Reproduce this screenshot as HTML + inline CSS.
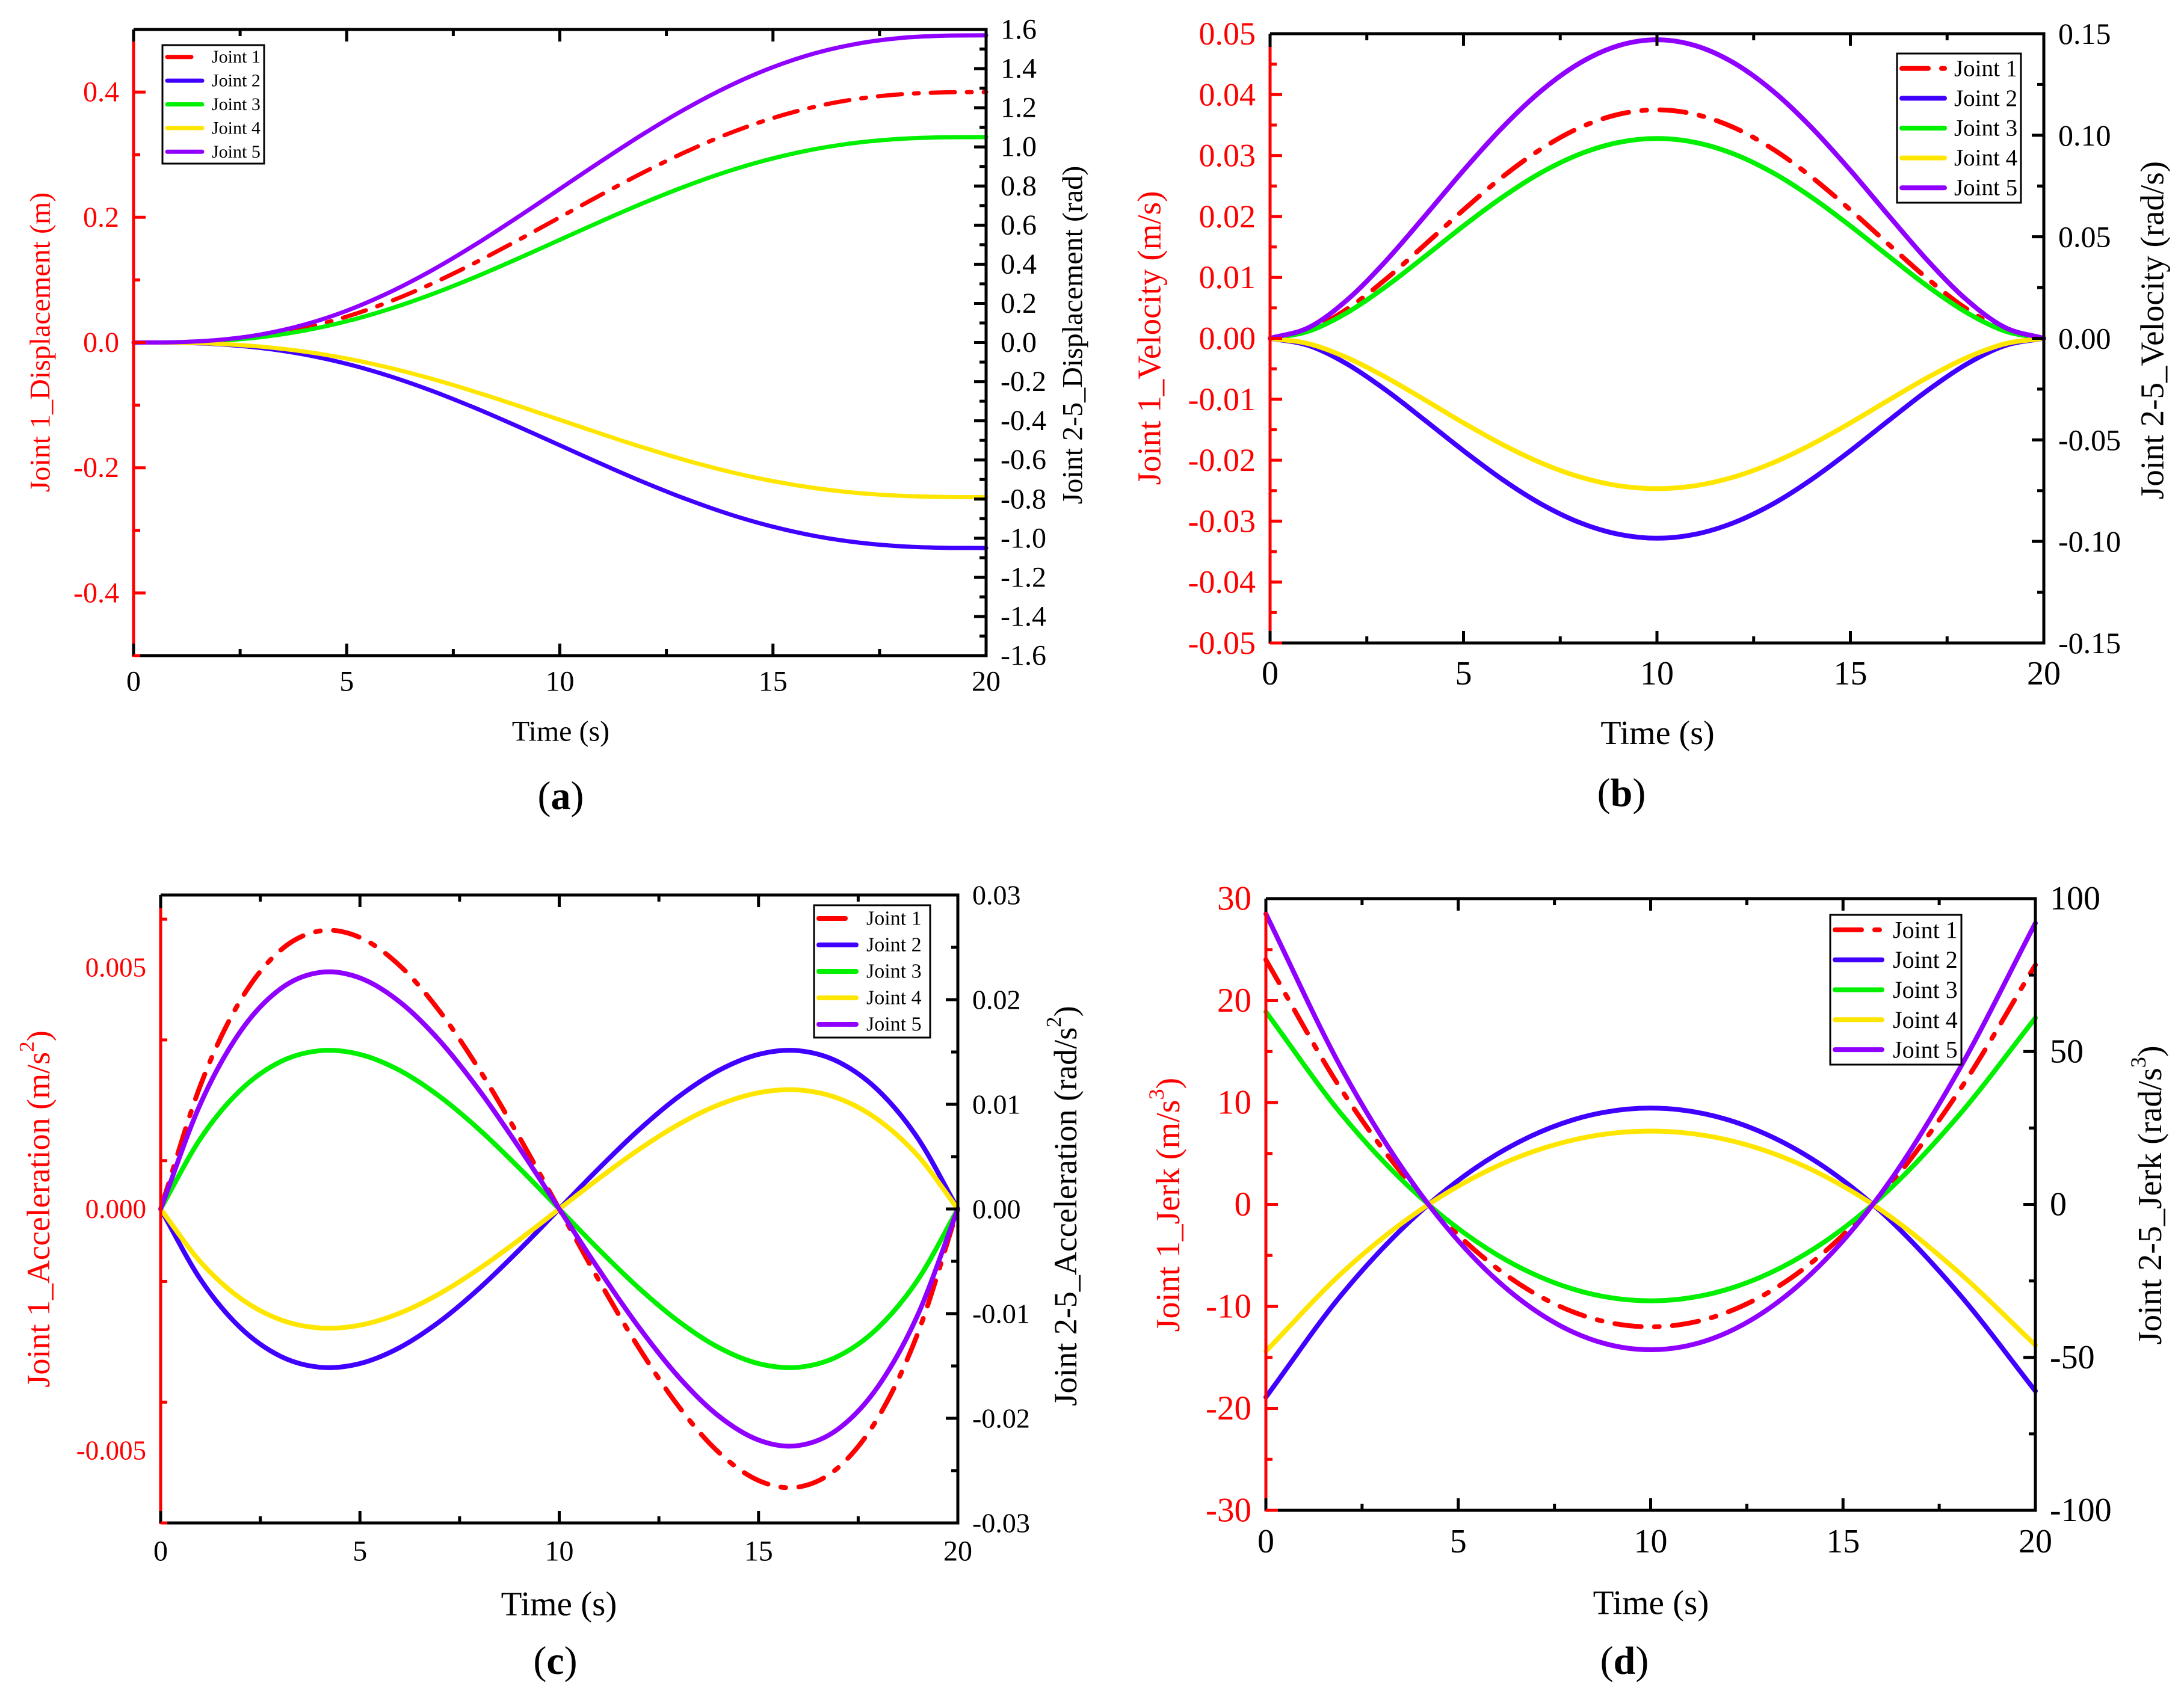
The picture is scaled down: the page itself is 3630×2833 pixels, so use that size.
<!DOCTYPE html>
<html><head><meta charset="utf-8"><style>
html,body{margin:0;padding:0;background:#fff;}
svg{display:block;font-family:"Liberation Serif",serif;}
text{font-family:"Liberation Serif",serif;}
</style></head><body>
<svg id="fig" xmlns="http://www.w3.org/2000/svg" width="3630" height="2833" viewBox="0 0 3630 2833"></svg>
<script>
// ---------- data ----------
const timeFine = [0,1,2,3,4,5,6,7,8,9,10,11,12,13,14,15,16,17,18,19,20];
const timeCoarse = [0,2,4,6,8,10,12,14,16,18,20];
const seriesNames = ["Joint 1","Joint 2","Joint 3","Joint 4","Joint 5"];

const dispJ1 = [0,0.00046,0.00342,0.01064,0.02317,0.04141,0.06523,0.09407,0.12698,0.16275,0.2,0.23725,0.27302,0.30593,0.33477,0.35859,0.37683,0.38936,0.39658,0.39954,0.4];
const dispJ2 = [0,-0.00122,-0.00899,-0.02794,-0.06082,-0.10869,-0.17123,-0.24693,-0.33331,-0.42722,-0.525,-0.62278,-0.71669,-0.80307,-0.87877,-0.94131,-0.98918,-1.02206,-1.04101,-1.04878,-1.05];
const dispJ3 = [0,0.00122,0.00899,0.02794,0.06082,0.10869,0.17123,0.24693,0.33331,0.42722,0.525,0.62278,0.71669,0.80307,0.87877,0.94131,0.98918,1.02206,1.04101,1.04878,1.05];
const dispJ4 = [0,-0.00091,-0.00676,-0.02102,-0.04576,-0.08178,-0.12883,-0.18578,-0.25078,-0.32143,-0.395,-0.46857,-0.53922,-0.60422,-0.66117,-0.70822,-0.74424,-0.76898,-0.78324,-0.78909,-0.79];
const dispJ5 = [0,0.00182,0.01344,0.04178,0.09093,0.16252,0.25604,0.36922,0.49838,0.6388,0.785,0.9312,1.07162,1.20078,1.31396,1.40748,1.47907,1.52822,1.55656,1.56818,1.57];

const velJ1 = [0,0.00135,0.00486,0.00975,0.01536,0.02109,0.02646,0.03105,0.03456,0.03675,0.0375,0.03675,0.03456,0.03105,0.02646,0.02109,0.01536,0.00975,0.00486,0.00135,0];
const velJ2 = [0,-0.00355,-0.01275,-0.02559,-0.0403,-0.05535,-0.06943,-0.08149,-0.09069,-0.09644,-0.0984,-0.09644,-0.09069,-0.08149,-0.06943,-0.05535,-0.0403,-0.02559,-0.01275,-0.00355,0];
const velJ3 = [0,0.00355,0.01275,0.02559,0.0403,0.05535,0.06943,0.08149,0.09069,0.09644,0.0984,0.09644,0.09069,0.08149,0.06943,0.05535,0.0403,0.02559,0.01275,0.00355,0];
const velJ4 = [0,-0.00267,-0.00959,-0.01925,-0.03031,-0.04163,-0.05221,-0.06128,-0.0682,-0.07253,-0.074,-0.07253,-0.0682,-0.06128,-0.05221,-0.04163,-0.03031,-0.01925,-0.00959,-0.00267,0];
const velJ5 = [0,0.00531,0.01905,0.03823,0.06021,0.08269,0.10372,0.12173,0.13548,0.14407,0.147,0.14407,0.13548,0.12173,0.10372,0.08269,0.06021,0.03823,0.01905,0.00531,0];

const accJ1 = [0,0.002564,0.004317,0.005352,0.005756,0.005621,0.005037,0.004093,0.002878,0.001484,0,-0.001484,-0.002878,-0.004093,-0.005037,-0.005621,-0.005756,-0.005352,-0.004317,-0.002564,0];
const accJ2 = [0,-0.006736,-0.011343,-0.014061,-0.015124,-0.014769,-0.013233,-0.010753,-0.007562,-0.003899,0,0.003899,0.007562,0.010753,0.013233,0.014769,0.015124,0.014061,0.011343,0.006736,0];
const accJ3 = [0,0.006736,0.011343,0.014061,0.015124,0.014769,0.013233,0.010753,0.007562,0.003899,0,-0.003899,-0.007562,-0.010753,-0.013233,-0.014769,-0.015124,-0.014061,-0.011343,-0.006736,0];
const accJ4 = [0,-0.005065,-0.008529,-0.010574,-0.011373,-0.011106,-0.009951,-0.008086,-0.005686,-0.002932,0,0.002932,0.005686,0.008086,0.009951,0.011106,0.011373,0.010574,0.008529,0.005065,0];
const accJ5 = [0,0.010068,0.016954,0.021017,0.022606,0.022075,0.01978,0.016073,0.011303,0.005828,0,-0.005828,-0.011303,-0.016073,-0.01978,-0.022075,-0.022606,-0.021017,-0.016954,-0.010068,0];

const jerkJ1 = [24,11.04,0.96,-6.24,-10.56,-12,-10.56,-6.24,0.96,11.04,23.5];
const jerkJ2 = [-63,-28.98,-2.52,16.38,27.72,31.5,27.72,16.38,-2.52,-28.98,-61];
const jerkJ3 = [63,28.98,2.52,-16.38,-27.72,-31.5,-27.72,-16.38,2.52,28.98,61];
const jerkJ4 = [-48,-22.08,-1.92,12.48,21.12,24,21.12,12.48,-1.92,-22.08,-46];
const jerkJ5 = [95,43.7,3.8,-24.7,-41.8,-47.5,-41.8,-24.7,3.8,43.7,92];

const xTickLabels = ["0","5","10","15","20"];
const aLeftTicks = ["-0.4","-0.2","0.0","0.2","0.4"];
const aRightTicks = ["-1.6","-1.4","-1.2","-1.0","-0.8","-0.6","-0.4","-0.2","0.0","0.2","0.4","0.6","0.8","1.0","1.2","1.4","1.6"];
const bLeftTicks = ["-0.05","-0.04","-0.03","-0.02","-0.01","0.00","0.01","0.02","0.03","0.04","0.05"];
const bRightTicks = ["-0.15","-0.10","-0.05","0.00","0.05","0.10","0.15"];
const cLeftTicks = ["-0.005","0.000","0.005"];
const cRightTicks = ["-0.03","-0.02","-0.01","0.00","0.01","0.02","0.03"];
const dLeftTicks = ["-30","-20","-10","0","10","20","30"];
const dRightTicks = ["-100","-50","0","50","100"];

const colors = ["#ff0000","#4000ff","#00f000","#ffe600","#9000ff"];
// ---------- drawing ----------
const NS = "http://www.w3.org/2000/svg";
const svg = document.getElementById("fig");
function mk(tag, attrs, parent){
  const e = document.createElementNS(NS, tag);
  for (const k in attrs) e.setAttribute(k, attrs[k]);
  (parent||svg).appendChild(e); return e;
}
function smoothPath(pts){
  let d = "M"+pts[0][0].toFixed(1)+","+pts[0][1].toFixed(1);
  for (let i=0;i<pts.length-1;i++){
    const p0 = pts[i-1] || [2*pts[0][0]-pts[1][0], 2*pts[0][1]-pts[1][1]];
    const p1 = pts[i], p2 = pts[i+1];
    const p3 = pts[i+2] || [2*p2[0]-p1[0], 2*p2[1]-p1[1]];
    const c1 = [p1[0]+(p2[0]-p0[0])/6, p1[1]+(p2[1]-p0[1])/6];
    const c2 = [p2[0]-(p3[0]-p1[0])/6, p2[1]-(p3[1]-p1[1])/6];
    d += "C"+c1[0].toFixed(1)+","+c1[1].toFixed(1)+" "+c2[0].toFixed(1)+","+c2[1].toFixed(1)+" "+p2[0].toFixed(1)+","+p2[1].toFixed(1);
  }
  return d;
}

function panel(cfg){
  const g = mk("g", {});
  
  
  const L=cfg.L,R=cfg.R,T=cfg.T,B=cfg.B;
  const xs = t => L + (t-0)/(20-0)*(R-L);
  const yl = v => B - (v-cfg.lmin)/(cfg.lmax-cfg.lmin)*(B-T);
  const yr = v => B - (v-cfg.rmin)/(cfg.rmax-cfg.rmin)*(B-T);
  const tk = 20, mt = 11;
  const sg = mk("g", {}, g);
  
  
  cfg.series.forEach((vals, i) => {
    const ys = i===0 ? yl : yr;
    const pts = cfg.times.map((t,k)=>[xs(t), ys(vals[k])]);
    const p = mk("path", {d:smoothPath(pts), fill:"none", stroke:colors[i], "stroke-width":cfg.lw, "stroke-linecap":"round"}, sg);
    if (i===0) p.setAttribute("stroke-dasharray", cfg.dash);
    
    
  });
  const fr = mk("path", {d:`M${L},${T}H${R}V${B}H${L}`, fill:"none", stroke:"#000", "stroke-width":5}, g);
  
  
  mk("line", {x1:L,y1:T,x2:L,y2:B+2, stroke:"#000","stroke-width":5}, g);
  const lr = mk("line", {x1:L,y1:T+cfg.redStart,x2:L,y2:B+2, stroke:"#ff0000","stroke-width":5}, g);
  
  
  for (let t=0;t<=20;t+=2.5){
    const x = xs(t), len = (t%5===0)?tk:mt;
    mk("line",{x1:x,y1:B,x2:x,y2:B-len,stroke:"#000","stroke-width":5},g);
    mk("line",{x1:x,y1:T,x2:x,y2:T+len,stroke:"#000","stroke-width":5},g);
  }
  xTickLabels.forEach((lab,i)=>{
    const t = mk("text",{x:xs(i*5), y:cfg.xLabY, "font-size":cfg.tfs, "text-anchor":"middle", "dominant-baseline":"central"}, g);
    t.textContent = lab;
    
    
  });
  for (let v=cfg.lmin; v<=cfg.lmax+1e-9; v+=cfg.lminor){
    const y = yl(v);
    const major = Math.abs(Math.round(v/cfg.lmajor)*cfg.lmajor - v) < cfg.lminor*0.1;
    if (y < T+cfg.redStart-2 || y > B+1) continue;
    mk("line",{x1:L,y1:y,x2:L+(major?tk:mt),y2:y,stroke:"#ff0000","stroke-width":5},g);
  }
  cfg.lTicks.forEach(lab=>{
    const t = mk("text",{x:L-24, y:yl(parseFloat(lab)), "font-size":cfg.lfs, fill:"#ff0000", "text-anchor":"end", "dominant-baseline":"central"}, g);
    t.textContent = lab;
    
    
  });
  for (let v=cfg.rmin; v<=cfg.rmax+1e-9; v+=cfg.rminor){
    const y = yr(v);
    const major = Math.abs(Math.round(v/cfg.rmajor)*cfg.rmajor - v) < cfg.rminor*0.1;
    mk("line",{x1:R,y1:y,x2:R-(major?tk:mt),y2:y,stroke:"#000","stroke-width":5},g);
  }
  cfg.rTicks.forEach(lab=>{
    const t = mk("text",{x:R+24, y:yr(parseFloat(lab)), "font-size":cfg.rfs, "text-anchor":"start", "dominant-baseline":"central"}, g);
    t.textContent = lab;
    
    
  });
  const xt = mk("text",{x:cfg.timeX, y:cfg.timeY, "font-size":cfg.titfs, "text-anchor":"middle", "dominant-baseline":"central"}, g);
  xt.textContent = "Time (s)";
  
  
  const lt = mk("text",{transform:`translate(${cfg.ltX},${cfg.ltY}) rotate(-90)`, "font-size":cfg.ytfs, fill:"#ff0000", "text-anchor":"middle", "dominant-baseline":"central"}, g);
  lt.innerHTML = cfg.lTitle;
  
  
  const rt = mk("text",{transform:`translate(${cfg.rtX},${cfg.rtY}) rotate(-90)`, "font-size":cfg.ytfs, "text-anchor":"middle", "dominant-baseline":"central"}, g);
  rt.innerHTML = cfg.rTitle;
  
  
  const pl = mk("text",{x:cfg.letX, y:cfg.letY, "font-size":66, "text-anchor":"middle", "dominant-baseline":"central"}, g);
  pl.innerHTML = '(<tspan font-weight="bold">'+cfg.letter+'</tspan>)';
  
  
  const lg = cfg.leg;
  const lgG = mk("g",{},g);
  
  
  mk("rect",{x:lg.x1,y:lg.y1,width:lg.x2-lg.x1,height:lg.y2-lg.y1,fill:"#fff",stroke:"#000","stroke-width":3},lgG);
  seriesNames.forEach((nm,i)=>{
    const y = lg.y1 + (lg.y2-lg.y1)*(0.1+0.2*i);
    const ln = mk("line",{x1:lg.x1+8,y1:y,x2:lg.sx2,y2:y,stroke:colors[i],"stroke-width":cfg.lw,"stroke-linecap":"round"},lgG);
    if (i===0) ln.setAttribute("stroke-dasharray", cfg.dash);
    const tx = mk("text",{x:lg.tx,y:y,"font-size":lg.fs,"dominant-baseline":"central"},lgG);
    tx.textContent = nm;
    
    
  });
}

panel({name:"panel-a-displacement", letter:"a", L:222,R:1639,T:49,B:1090, lmin:-0.5,lmax:0.5,lmajor:0.2,lminor:0.1,
  rmin:-1.6,rmax:1.6,rmajor:0.2,rminor:0.1, lTicks:aLeftTicks, rTicks:aRightTicks, times:timeFine, series:[dispJ1,dispJ2,dispJ3,dispJ4,dispJ5],
  lw:7, dash:"40 20 8 20", redStart:18, tfs:48, lfs:48, rfs:48, titfs:48, ytfs:48, xLabY:1133,
  timeX:932,timeY:1216, ltX:67,ltY:569, rtX:1783,rtY:557, letX:932,letY:1323,
  lTitle:"Joint 1_Displacement (m)", rTitle:"Joint 2-5_Displacement (rad)",
  leg:{x1:270,y1:75,x2:439,y2:272,sx2:336,tx:352,fs:30}});

panel({name:"panel-b-velocity", letter:"b", L:2111,R:3397,T:56,B:1069, lmin:-0.05,lmax:0.05,lmajor:0.01,lminor:0.005,
  rmin:-0.15,rmax:0.15,rmajor:0.05,rminor:0.025, lTicks:bLeftTicks, rTicks:bRightTicks, times:timeFine, series:[velJ1,velJ2,velJ3,velJ4,velJ5],
  lw:8, dash:"44 22 8 22", redStart:22, tfs:56, lfs:54, rfs:50, titfs:56, ytfs:55, xLabY:1120,
  timeX:2755,timeY:1219, ltX:1910,ltY:562, rtX:3577,rtY:549, letX:2695,letY:1318,
  lTitle:"Joint 1_Velocity (m/s)", rTitle:"Joint 2-5_Velocity (rad/s)",
  leg:{x1:3153,y1:89,x2:3359,y2:337,sx2:3232,tx:3248,fs:39}});

panel({name:"panel-c-acceleration", letter:"c", L:267,R:1592,T:1488,B:2532, lmin:-0.0065,lmax:0.0065,lmajor:0.005,lminor:0.0025,
  rmin:-0.03,rmax:0.03,rmajor:0.01,rminor:0.005, lTicks:cLeftTicks, rTicks:cRightTicks, times:timeFine, series:[accJ1,accJ2,accJ3,accJ4,accJ5],
  lw:8, dash:"44 22 8 22", redStart:22, tfs:48, lfs:45, rfs:46, titfs:57, ytfs:54, xLabY:2579,
  timeX:929,timeY:2667, ltX:64,ltY:2010, rtX:1771,rtY:2005, letX:923,letY:2761,
  lTitle:'Joint 1_Acceleration (m/s<tspan baseline-shift="super" font-size="65%">2</tspan>)',
  rTitle:'Joint 2-5_Acceleration (rad/s<tspan baseline-shift="super" font-size="65%">2</tspan>)',
  leg:{x1:1353,y1:1505,x2:1546,y2:1725,sx2:1423,tx:1440,fs:34}});

panel({name:"panel-d-jerk", letter:"d", L:2104,R:3383,T:1494,B:2511, lmin:-30,lmax:30,lmajor:10,lminor:5,
  rmin:-100,rmax:100,rmajor:50,rminor:25, lTicks:dLeftTicks, rTicks:dRightTicks, times:timeCoarse, series:[jerkJ1,jerkJ2,jerkJ3,jerkJ4,jerkJ5],
  lw:8, dash:"44 22 8 22", redStart:22, tfs:56, lfs:57, rfs:56, titfs:57, ytfs:56, xLabY:2563,
  timeX:2744,timeY:2665, ltX:1942,ltY:2003, rtX:3574,rtY:1987, letX:2700,letY:2761,
  lTitle:'Joint 1_Jerk (m/s<tspan baseline-shift="super" font-size="65%">3</tspan>)',
  rTitle:'Joint 2-5_Jerk (rad/s<tspan baseline-shift="super" font-size="65%">3</tspan>)',
  leg:{x1:3042,y1:1521,x2:3260,y2:1770,sx2:3128,tx:3146,fs:40}});
</script>
</body></html>
